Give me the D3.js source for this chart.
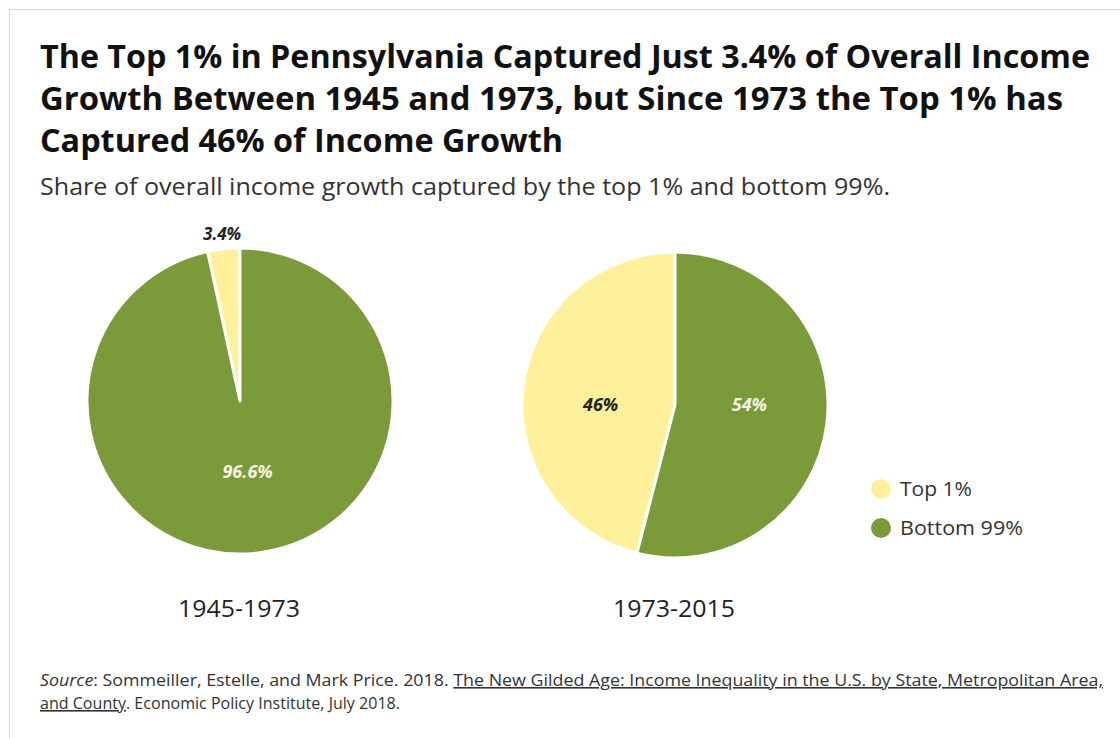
<!DOCTYPE html>
<html>
<head>
<meta charset="utf-8">
<script src="https://cdn.jsdelivr.net/npm/d3@7"></script>
<style>
  html, body { margin: 0; padding: 0; background: #fff; }
  svg { display: block; }
</style>
</head>
<body>
<script>
// Income-growth shares, top 1% vs bottom 99%, Pennsylvania
const groups = ["Top 1%", "Bottom 99%"];
const periods = ["1945-1973", "1973-2015"];
const top1Share = [3.4, 46];
const bottom99Share = [96.6, 54];
const shareLabels = [["3.4%", "96.6%"], ["46%", "54%"]];

const titleLines = [
  "The Top 1% in Pennsylvania Captured Just 3.4% of Overall Income",
  "Growth Between 1945 and 1973, but Since 1973 the Top 1% has",
  "Captured 46% of Income Growth"
];
const subtitle = "Share of overall income growth captured by the top 1% and bottom 99%.";

const W = 1120, H = 738;
const svg = d3.select("body").append("svg").attr("width", W).attr("height", H);

const FONT = "'Open Sans', 'Noto Sans', sans-serif";
const colors = d3.scaleOrdinal().domain(groups).range(["#fff19b", "#7b9b3a"]);

// light frame along the top and left edges
svg.append("line").attr("x1", 9.5).attr("x2", W).attr("y1", 9.5).attr("y2", 9.5)
  .attr("stroke", "#d9d9d9");
svg.append("line").attr("x1", 9.5).attr("x2", 9.5).attr("y1", 9.5).attr("y2", H)
  .attr("stroke", "#d9d9d9");

// set a text element to an exact width
function fit(sel, width) {
  sel.attr("textLength", width).attr("lengthAdjust", "spacingAndGlyphs");
  return sel;
}

// title
const titleWidths = [1050, 1023, 523];
titleLines.forEach((t, i) => {
  svg.append("text").attr("x", 40).attr("y", 68 + i * 42)
    .attr("font-family", FONT).attr("font-weight", 700).attr("font-size", 33)
    .attr("fill", "#111").text(t)
    .call(fit, titleWidths[i]);
});

svg.append("text").attr("x", 40).attr("y", 195)
  .attr("font-family", FONT).attr("font-size", 24).attr("fill", "#333")
  .text(subtitle).call(fit, 850);

// pies
const radius = 153;
const centers = [[240, 401], [675, 405]];
const arc = d3.arc().innerRadius(0).outerRadius(radius);

periods.forEach((p, i) => {
  const values = [top1Share[i], bottom99Share[i]];
  const total = d3.sum(values);
  const topAngle = 2 * Math.PI * values[0] / total;
  const pie = d3.pie().sort(null)
    .startAngle(-topAngle).endAngle(2 * Math.PI - topAngle);
  const arcs = pie(values);

  const g = svg.append("g").attr("transform", `translate(${centers[i][0]},${centers[i][1]})`);

  g.selectAll("path").data(arcs).join("path")
    .attr("d", arc)
    .attr("fill", (d, j) => colors(groups[j]))
    .attr("stroke", "#fff").attr("stroke-width", 3).attr("stroke-linejoin", "round");

  arcs.forEach((a, j) => {
    const mid = (a.startAngle + a.endAngle) / 2;
    const small = (a.endAngle - a.startAngle) < 0.5;
    // small slices are labelled just outside the rim
    const r = small ? radius + 15 : (i === 0 ? 71 : 75);
    let x = Math.sin(mid) * r, y = -Math.cos(mid) * r;
    if (!small && i === 1) y = 0;
    g.append("text").attr("x", x).attr("y", y).attr("dy", "0.35em")
      .attr("text-anchor", "middle")
      .attr("font-family", FONT).attr("font-weight", 700).attr("font-style", "italic")
      .attr("font-size", small ? 17 : 18)
      .attr("fill", j === 0 ? "#222" : "#f4f4e4")
      .text(shareLabels[i][j]);
  });

  svg.append("text").attr("x", centers[i][0] - 1).attr("y", 617)
    .attr("text-anchor", "middle")
    .attr("font-family", FONT).attr("font-size", 23).attr("fill", "#222")
    .text(p).call(fit, 122);
});

// legend
groups.forEach((gname, j) => {
  const y = 489 + j * 39;
  svg.append("circle").attr("cx", 881).attr("cy", y).attr("r", 10)
    .attr("fill", colors(gname));
  svg.append("text").attr("x", 900).attr("y", y).attr("dy", "0.35em")
    .attr("font-family", FONT).attr("font-size", 20).attr("fill", "#333")
    .text(gname).call(fit, j === 0 ? 72 : 123);
});

// source note
const src = svg.append("text").attr("x", 40).attr("y", 686)
  .attr("font-family", FONT).attr("font-size", 16).attr("fill", "#333");
src.append("tspan").attr("font-style", "italic").text("Source");
src.append("tspan").text(": Sommeiller, Estelle, and Mark Price. 2018. ");
src.append("tspan").attr("text-decoration", "underline")
  .text("The New Gilded Age: Income Inequality in the U.S. by State, Metropolitan Area,");
fit(src, 1063);

const src2 = svg.append("text").attr("x", 40).attr("y", 709)
  .attr("font-family", FONT).attr("font-size", 16).attr("fill", "#333");
src2.append("tspan").attr("text-decoration", "underline").text("and County");
src2.append("tspan").text(". Economic Policy Institute, July 2018.");
fit(src2, 360);
</script>
</body>
</html>
